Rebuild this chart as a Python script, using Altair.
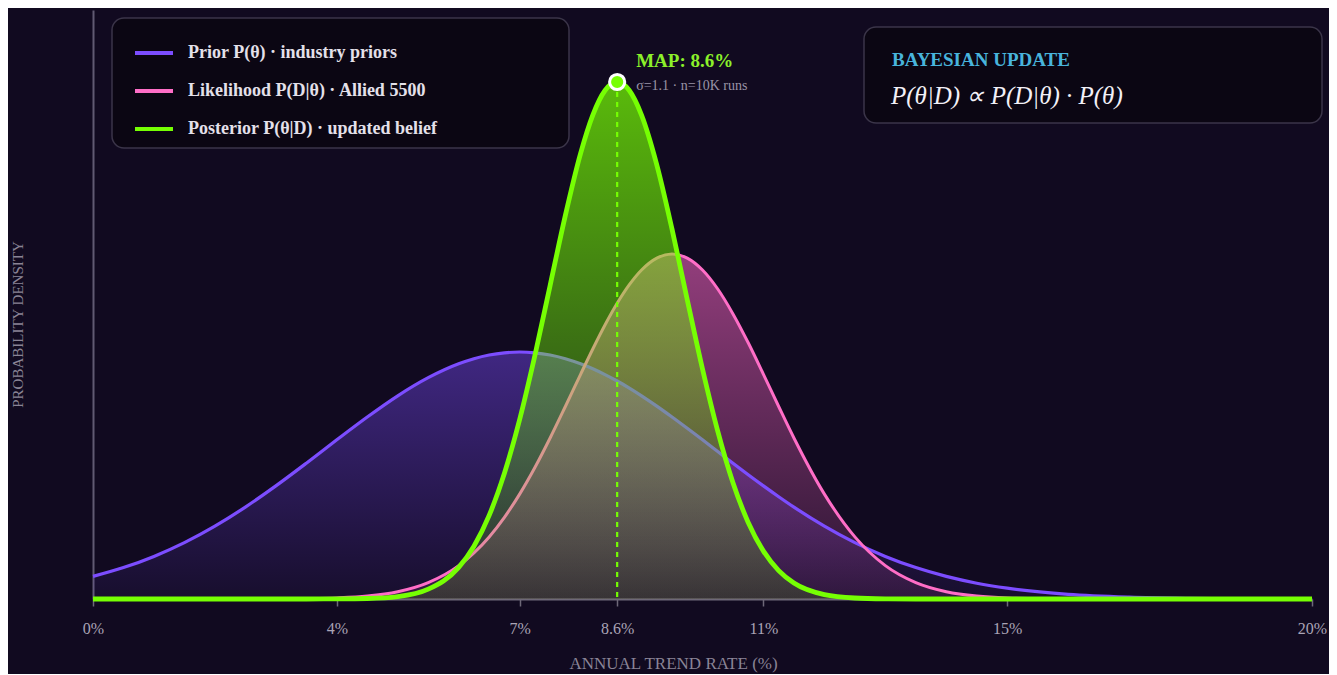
import altair as alt
import pandas as pd

# ---------------- data ----------------
theta = [0, 0.5, 1, 1.5, 2, 2.5, 3, 3.5, 4, 4.5, 5, 5.5, 6,
         6.25, 6.5, 6.75, 7, 7.25, 7.5, 7.75, 8,
         8.2, 8.4, 8.6, 8.8, 9,
         9.25, 9.5, 9.75, 10, 10.25, 10.5, 10.75, 11, 11.25, 11.5,
         12, 12.5, 13, 13.5, 14, 14.5, 15,
         16, 17, 18, 19, 20]

prior = [0.0226, 0.0314, 0.0426, 0.0564, 0.0729, 0.0919, 0.1131, 0.1358, 0.1592, 0.1820, 0.2032, 0.2213, 0.2352,
         0.2403, 0.2440, 0.2462, 0.2470, 0.2462, 0.2440, 0.2403, 0.2352,
         0.2302, 0.2244, 0.2180, 0.2109, 0.2032,
         0.1929, 0.1820, 0.1707, 0.1592, 0.1475, 0.1358, 0.1243, 0.1131, 0.1023, 0.0919,
         0.0729, 0.0564, 0.0426, 0.0314, 0.0226, 0.0158, 0.0108,
         0.0047, 0.0019, 0.0007, 0.0002, 0.0001]

likelihood = [0, 0, 0, 0, 0, 0, 0.0001, 0.0004, 0.0011, 0.0029, 0.0073, 0.0164, 0.0334,
              0.0461, 0.0621, 0.0817, 0.1049, 0.1315, 0.1610, 0.1925, 0.2247,
              0.2500, 0.2740, 0.2957, 0.3143, 0.3290,
              0.3409, 0.3450, 0.3409, 0.3290, 0.3100, 0.2851, 0.2562, 0.2247, 0.1925, 0.1610,
              0.1049, 0.0621, 0.0334, 0.0164, 0.0073, 0.0029, 0.0011,
              0.0001, 0, 0, 0, 0]

posterior = [0, 0, 0, 0, 0, 0, 0, 0, 0.0001, 0.0005, 0.0024, 0.0098, 0.0316,
             0.0528, 0.0836, 0.1257, 0.1795, 0.2435, 0.3136, 0.3836, 0.4456,
             0.4839, 0.5085, 0.5170, 0.5085, 0.4839,
             0.4342, 0.3699, 0.2993, 0.2300, 0.1679, 0.1163, 0.0766, 0.0479, 0.0284, 0.0160,
             0.0044, 0.0010, 0.0002, 0, 0, 0, 0,
             0, 0, 0, 0, 0]

series_labels = ["Prior P(θ) · industry priors",
                 "Likelihood P(D|θ) · Allied 5500",
                 "Posterior P(θ|D) · updated belief"]
series_colors = ["#7c4dff", "#ff6ec7", "#76ff03"]

x_ticks = [0, 4, 7, 8.6, 11, 15, 20]

map_theta = [8.6]
map_density = [0.517]
map_label = ["MAP: 8.6%"]
map_note = ["σ=1.1 · n=10K runs"]

box_title = "BAYESIAN UPDATE"
box_formula = "P(θ|D) ∝ P(D|θ) · P(θ)"

# ---------------- tables ----------------
rows = []
for name, vals in zip(series_labels, [prior, likelihood, posterior]):
    for t, v in zip(theta, vals):
        rows.append({"theta": t, "density": v, "series": name})
df = pd.DataFrame(rows)

map_df = pd.DataFrame({"theta": map_theta, "density": map_density,
                       "label": map_label, "note": map_note})
one = pd.DataFrame({"k": [0]})

FONT = "Liberation Serif"
W, H = 1219, 589

x_enc = alt.X(
    "theta:Q",
    scale=alt.Scale(domain=[0, 20], nice=False, zero=False),
    axis=alt.Axis(
        values=x_ticks, labelExpr="datum.value + '%'",
        title="ANNUAL TREND RATE (%)", grid=False,
        domainColor="#6e6878", domainWidth=2,
        tickColor="#6e6878", tickWidth=1.5, tickSize=7,
        labelFont=FONT, labelFontSize=16, labelColor="#aaa4b6",
        labelPadding=14, labelFlush=False, labelOverlap=False,
        titleFont=FONT, titleFontSize=17, titleFontWeight="normal",
        titleColor="#8a8496", titleX=580, titleY=64,
        titleAlign="center", titleBaseline="middle",
    ),
)
y_enc = alt.Y(
    "density:Q",
    scale=alt.Scale(domain=[0, 0.589], nice=False),
    axis=alt.Axis(
        labels=False, ticks=False, grid=False,
        domainColor="#615a72", domainWidth=2,
        title="PROBABILITY DENSITY",
        titleFont=FONT, titleFontSize=15, titleFontWeight="normal",
        titleColor="#8a8496", titleAngle=270, titleX=-76, titleY=314,
        titleAlign="center", titleBaseline="middle",
    ),
)

color_enc = alt.Color(
    "series:N",
    scale=alt.Scale(domain=series_labels, range=series_colors),
    legend=alt.Legend(
        title=None, orient="none", legendX=40, legendY=22,
        symbolType="stroke", symbolSize=1444, symbolStrokeWidth=4,
        labelFont=FONT, labelFontSize=18, labelFontWeight="bold",
        labelColor="#e4e0ea", labelOffset=13, labelLimit=600,
        rowPadding=8, padding=0,
    ),
)


def grad(rgb, top, bottom):
    return alt.LinearGradient(
        gradient="linear",
        stops=[alt.GradientStop(offset=0, color=f"rgba({rgb},{top})"),
               alt.GradientStop(offset=1, color=f"rgba({rgb},{bottom})")],
        x1=0, x2=0, y1=0, y2=1,
    )


base = alt.Chart(df)

area_prior = base.transform_filter(alt.datum.series == series_labels[0]).mark_area(
    interpolate="monotone", fill=grad("124,77,255", 0.44, 0.06)
).encode(x=x_enc, y=y_enc)
area_lik = base.transform_filter(alt.datum.series == series_labels[1]).mark_area(
    interpolate="monotone", fill=grad("255,105,200", 0.55, 0.10)
).encode(x=x_enc, y=y_enc)
area_post = base.transform_filter(alt.datum.series == series_labels[2]).mark_area(
    interpolate="monotone", fill=grad("118,255,3", 0.72, 0.12)
).encode(x=x_enc, y=y_enc)

line_prior = base.transform_filter(alt.datum.series == series_labels[0]).mark_line(
    interpolate="monotone", strokeWidth=3.2
).encode(x=x_enc, y=y_enc, color=color_enc)
line_lik = base.transform_filter(alt.datum.series == series_labels[1]).mark_line(
    interpolate="monotone", strokeWidth=3
).encode(x=x_enc, y=y_enc, color=color_enc)
line_post = base.transform_filter(alt.datum.series == series_labels[2]).mark_line(
    interpolate="monotone", strokeWidth=4.8
).encode(x=x_enc, y=y_enc, color=color_enc)

map_rule = alt.Chart(map_df).mark_rule(
    color="#76ff03", strokeWidth=2.2, strokeDash=[5, 5]
).encode(x=x_enc, y=y_enc, y2=alt.datum(0))
map_point = alt.Chart(map_df).mark_circle(
    size=230, color="#76ff03", opacity=1, stroke="white", strokeWidth=3
).encode(x=x_enc, y=y_enc)
map_text = alt.Chart(map_df).mark_text(
    font=FONT, fontSize=19, fontWeight="bold", color="#8cf02a",
    align="left", baseline="alphabetic", dx=19, dy=-15
).encode(x=x_enc, y=y_enc, text="label:N")
map_sub = alt.Chart(map_df).mark_text(
    font=FONT, fontSize=14, color="#9a94a6",
    align="left", baseline="alphabetic", dx=19, dy=8
).encode(x=x_enc, y=y_enc, text="note:N")

legend_box = alt.Chart(one).mark_rect(
    cornerRadius=12, fill="#0a0612", fillOpacity=0.85,
    stroke="#3b3549", strokeWidth=1.5
).encode(x=alt.value(19), x2=alt.value(476), y=alt.value(8), y2=alt.value(138))
formula_box = alt.Chart(one).mark_rect(
    cornerRadius=12, fill="#0a0612", fillOpacity=0.85,
    stroke="#3b3549", strokeWidth=1.5
).encode(x=alt.value(771), x2=alt.value(1229), y=alt.value(17), y2=alt.value(113))
formula_title = alt.Chart(one).mark_text(
    text=box_title, font=FONT, fontSize=19, fontWeight="bold", color="#48b4dc",
    align="left", baseline="alphabetic"
).encode(x=alt.value(799), y=alt.value(56))
formula_text = alt.Chart(one).mark_text(
    text=box_formula, font=FONT, fontSize=25, fontStyle="italic", color="#f2f0f7",
    align="left", baseline="alphabetic"
).encode(x=alt.value(798), y=alt.value(94))

chart = alt.layer(
    area_prior, area_lik, line_prior, line_lik, area_post, line_post,
    map_rule, map_point, map_text, map_sub,
    legend_box, formula_box, formula_title, formula_text,
).properties(
    width=W, height=H,
    autosize=alt.AutoSizeParams(type="none"),
    padding={"left": 85, "top": 2, "right": 17, "bottom": 75},
    background="#110a20",
).configure_view(stroke=None)

chart.save("out.html", embed_options={"renderer": "svg", "actions": False})
